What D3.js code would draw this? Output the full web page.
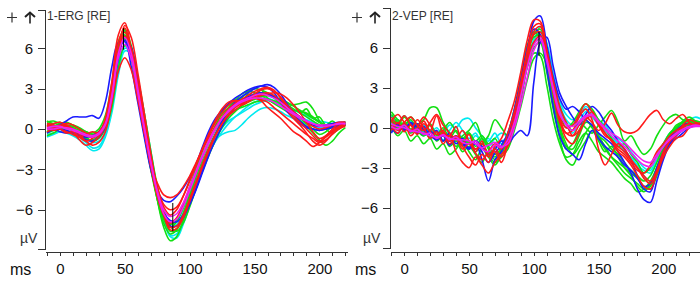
<!DOCTYPE html>
<html><head><meta charset="utf-8">
<script src="https://cdn.jsdelivr.net/npm/d3@7"></script>
<style>
body{margin:0;background:#fff;}
svg{display:block;font-family:Arial,"Liberation Sans",sans-serif;}
.axis path,.axis line{stroke:#333;stroke-width:1;shape-rendering:crispEdges;}
.axis text{fill:#111;font-size:15px;}
</style></head>
<body>
<svg id="c" width="700" height="283"></svg>
<script>
// ---------- DATA ----------
const titles = ["1-ERG [RE]", "2-VEP [RE]"];
const yTicks = [-6, -3, 0, 3, 6];
const xTickLabels = [0, 50, 100, 150, 200];
const colorMap = {red:"#ff1a1a", green:"#12e012", blue:"#1a1aff", cyan:"#00eaf0", magenta:"#f020f0"};

const timesL = [-10,-5,0,5,10,15,20,25,30,35,40,45,50,55,60,65,70,75,80,85,90,95,100,105,110,115,120,125,130,135,140,145,150,155,160,165,170,175,180,185,190,195,200,205,210,215,220];
const timesR = [-10,-5,0,5,10,15,20,25,30,35,40,45,50,55,60,65,70,75,80,85,90,95,100,105,110,115,120,125,130,135,140,145,150,155,160,165,170,175,180,185,190,195,200,205,210,215,220,225,230];

// ERG traces (µV)
const ergC1 = [-0.4,-0.3,-0.2,-0.3,-0.5,-0.8,-1.2,-1.6,-1.5,-0.6, 1.2,4.0,5.8,5.6,3.8,1.2,-1.6,-4.4,-6.6,-7.9, -7.8,-6.8,-5.4,-4.0,-2.7,-1.5,-0.6,0.1,0.6,0.9, 1.2,1.5,1.8,2.0,2.1,2.0,1.8,1.6,1.4,1.2, 1.0,0.8,0.6,0.5,0.4,0.4,0.4];
const ergC2 = [-0.6,-0.4,-0.2,0.0,-0.1,-0.4,-0.7,-1.0,-0.9,-0.2, 1.8,4.8,6.2,5.6,3.4,0.7,-2.0,-4.6,-6.5,-7.3, -7.1,-6.2,-5.0,-3.8,-2.6,-1.6,-0.8,-0.4,-0.2,-0.1, 0.3,0.8,1.2,1.5,1.6,1.5,1.3,1.0,0.8,0.6, 0.4,0.2,0.1,0.1,0.2,0.3,0.4];
const ergC3 = [-0.2,-0.1,0.0,-0.1,-0.3,-0.6,-1.0,-1.4,-1.3,-0.4, 1.5,4.5,6.0,5.7,3.6,0.9,-1.8,-4.5,-6.7,-8.0, -8.1,-7.1,-5.7,-4.3,-3.0,-1.8,-0.9,-0.2,0.4,0.9, 1.3,1.7,2.0,2.2,2.3,2.1,1.8,1.5,1.2,0.9, 0.7,0.5,0.3,0.2,0.2,0.3,0.4];
const ergG1 = [0.4,0.3,0.1,-0.1,-0.3,-0.5,-0.7,-0.8,-0.5,0.3, 2.6,6.0,7.4,6.2,3.6,0.7,-2.4,-5.2,-7.3,-8.3, -8.0,-6.8,-5.3,-3.9,-2.5,-1.3,-0.3,0.5,1.2,1.8, 2.3,2.8,3.0,2.9,2.7,2.4,2.1,1.9,1.8,1.9, 2.0,1.5,0.6,0.0,-0.3,0.0,0.3];
const ergG2 = [0.5,0.6,0.4,0.2,0.1,-0.2,-0.5,-0.6,-0.4,0.4, 2.8,5.8,6.7,5.3,2.7,0.0,-2.6,-4.8,-6.3,-7.0, -6.7,-5.8,-4.6,-3.3,-2.0,-0.9,0.0,0.8,1.5,2.1, 2.6,2.8,2.7,2.5,2.2,1.9,1.6,1.3,1.0,0.6, 0.2,-0.3,-0.8,-1.2,-0.9,-0.3,0.1];
const ergG3 = [-0.5,-0.3,0.0,0.2,0.1,-0.1,-0.3,-0.5,-0.5,0.0, 1.6,4.5,6.2,5.8,3.8,1.2,-1.6,-4.2,-6.0,-7.2, -7.6,-7.0,-5.8,-4.4,-3.1,-1.9,-0.8,0.1,0.8,1.3, 1.7,2.0,2.2,2.4,2.5,2.4,2.2,2.0,1.7,1.4, 1.1,0.8,0.5,0.3,0.2,0.2,0.3];
const ergG4 = [0.2,0.1,0.0,0.0,-0.1,-0.3,-0.6,-0.9,-0.7,0.1, 2.3,5.6,7.0,6.0,3.3,0.4,-2.3,-4.6,-6.6,-7.6, -7.4,-6.3,-4.9,-3.5,-2.2,-1.0,0.0,0.8,1.4,1.8, 2.0,2.3,2.6,2.7,2.6,2.3,1.9,1.6,1.4,1.3, 1.2,0.9,0.5,0.2,0.1,0.2,0.3];
const ergG5 = [-0.3,-0.1,0.2,0.3,0.2,0.0,-0.2,-0.3,0.0,1.0, 3.4,6.2,6.9,5.2,2.4,-0.4,-3.0,-5.2,-6.7,-7.3, -6.9,-5.8,-4.3,-2.9,-1.6,-0.4,0.6,1.3,1.8,2.1, 2.2,2.3,2.3,2.4,2.5,2.4,2.1,1.8,1.5,1.2, 0.9,0.6,0.3,0.2,0.3,0.4,0.5];
const ergG6 = [0.6,0.4,0.5,0.2,0.0,-0.3,-0.2,-0.5,-0.3,0.5, 2.7,6.0,7.2,5.8,3.0,0.3,-2.6,-5.2,-7.0,-7.8, -7.5,-6.5,-5.0,-3.5,-2.1,-0.8,0.3,1.1,1.6,2.2, 2.0,2.6,2.4,2.9,2.3,2.0,2.2,1.6,1.8,1.2, 1.5,0.8,0.9,0.3,0.6,0.2,0.4];
const ergG7 = [-0.2,0.2,0.4,0.5,0.3,0.1,-0.2,-0.4,-0.2,0.6, 3.0,6.5,7.3,5.5,2.6,-0.2,-2.9,-5.0,-6.5,-7.1, -6.8,-5.9,-4.6,-3.2,-1.9,-0.8,0.1,0.7,1.1,1.4, 1.6,1.8,2.0,2.1,2.2,2.1,1.9,1.6,1.2,0.8, 0.4,0.0,-0.4,-0.2,0.2,0.4,0.5];
const ergB1 = [-0.3,0.0,0.3,0.6,0.9,0.9,0.9,1.0,0.8,2.0, 4.6,6.4,6.5,4.6,2.0,-0.6,-3.0,-4.6,-5.3,-5.4, -5.0,-4.4,-3.6,-2.6,-1.3,-0.1,0.8,1.4,1.9,2.3, 2.6,2.9,3.1,3.2,3.1,2.7,2.0,1.3,0.8,0.4, 0.1,0.0,-0.1,0.0,0.1,0.2,0.3];
const ergB2 = [0.1,0.0,-0.2,-0.3,-0.2,-0.4,-0.6,-0.5,-0.2,0.6, 2.8,5.7,6.6,5.4,2.9,0.2,-2.4,-4.7,-6.2,-6.8, -6.9,-6.4,-5.6,-4.5,-3.2,-1.9,-0.8,0.2,1.0,1.6, 2.1,2.4,2.6,2.7,2.6,2.4,2.1,1.7,1.3,0.9, 0.6,0.3,0.2,0.3,0.4,0.5,0.5];
const ergB3 = [0.3,0.2,0.0,-0.1,-0.3,-0.5,-0.8,-0.9,-0.6,0.2, 2.2,5.2,6.8,6.1,3.6,0.8,-2.0,-4.6,-6.4,-7.2, -7.2,-6.6,-5.6,-4.4,-3.0,-1.6,-0.4,0.6,1.4,2.0, 2.4,2.7,3.0,3.2,3.3,3.1,2.6,1.9,1.2,0.6, 0.2,0.0,-0.1,0.0,0.2,0.3,0.4];
const ergR1 = [0.3,0.2,0.1,0.2,0.0,-0.3,-0.5,-0.6,-0.4,0.8, 3.5,7.0,7.9,5.8,2.8,-0.2,-2.8,-5.0,-6.4,-7.0, -6.6,-5.6,-4.5,-3.2,-2.0,-0.9,0.1,0.9,1.5,1.9, 2.2,2.5,2.8,3.0,3.1,2.9,2.3,1.6,1.0,0.5, 0.0,-0.5,-0.9,-0.6,-0.2,0.1,0.3];
const ergR2 = [0.0,0.1,0.3,0.2,-0.2,-0.8,-1.2,-1.0,-0.6,0.3, 2.0,4.3,5.3,4.4,2.2,-0.3,-2.5,-4.0,-4.9,-5.1, -4.9,-4.3,-3.5,-2.5,-1.5,-0.6,0.2,0.8,1.3,1.7, 2.0,2.2,2.3,2.2,2.0,1.6,1.2,0.8,0.4,0.0, -0.4,-0.7,-1.0,-0.8,-0.4,0.0,0.2];
const ergR3 = [0.4,0.3,0.0,-0.2,-0.4,-0.6,-0.4,-0.2,-0.3,0.2, 2.2,5.5,6.9,6.0,3.5,0.8,-2.0,-4.5,-6.2,-7.3, -7.2,-6.4,-5.2,-3.9,-2.6,-1.4,-0.4,0.4,1.0,1.4, 1.8,2.2,2.6,2.9,3.0,2.8,2.4,1.8,1.3,0.9, 0.5,0.2,0.0,0.1,0.3,0.5,0.5];
const ergR4 = [-0.2,0.0,0.2,0.4,0.3,0.0,-0.3,-0.5,-0.2,0.6, 3.0,6.4,7.5,5.6,2.9,0.2,-2.4,-4.4,-5.8,-6.4, -6.0,-5.0,-3.8,-2.6,-1.4,-0.4,0.5,1.2,1.8,2.1, 2.1,2.2,2.4,2.6,2.7,2.5,2.0,1.4,0.8,0.3, -0.3,-0.9,-1.2,-0.9,-0.3,0.2,0.4];
const ergR5 = [0.2,0.4,0.5,0.3,0.0,-0.4,-0.9,-1.2,-1.0,-0.2, 2.0,5.6,7.7,6.8,4.2,1.2,-1.8,-4.4,-6.4,-7.5, -7.4,-6.6,-5.4,-4.1,-2.8,-1.6,-0.5,0.4,1.1,1.6, 1.9,2.1,2.3,2.5,2.6,2.7,2.6,2.3,1.8,1.2, 0.5,-0.2,-0.7,-0.5,0.0,0.4,0.5];
const ergR6 = [0.2,-0.1,0.0,-0.3,-0.2,-0.6,-0.9,-0.7,-0.4,0.4, 2.4,5.8,7.2,5.9,3.2,0.4,-2.2,-4.3,-5.6,-6.0, -5.8,-5.0,-3.9,-2.7,-1.5,-0.3,0.7,1.5,2.0,2.1, 1.8,2.0,2.3,2.1,1.6,1.2,0.8,0.3,-0.2,-0.5, -0.9,-1.3,-1.0,-0.5,-0.1,0.2,0.4];
const ergM1 = [0.0,0.0,0.1,0.1,0.0,-0.2,-0.4,-0.5,-0.3,0.4, 2.5,5.3,6.3,5.2,2.7,0.0,-2.5,-4.6,-6.0,-6.5, -6.3,-5.5,-4.3,-3.1,-1.9,-0.8,0.1,0.8,1.3,1.7, 2.0,2.2,2.3,2.3,2.2,2.0,1.7,1.4,1.1,0.8, 0.6,0.4,0.3,0.3,0.3,0.4,0.4];
const ergM2 = [0.1,0.2,0.2,0.0,-0.1,-0.3,-0.5,-0.6,-0.4,0.3, 2.3,5.6,6.8,5.6,3.0,0.2,-2.4,-4.7,-6.3,-6.9, -6.7,-5.8,-4.6,-3.3,-2.1,-1.0,0.0,0.8,1.4,1.8, 2.1,2.3,2.5,2.6,2.5,2.3,2.0,1.6,1.2,0.9, 0.6,0.4,0.2,0.2,0.3,0.4,0.4];

// VEP traces (µV)
const vepC1 = [0.9,0.4,0.9,0.3,-0.2,-0.6,-0.2,-0.8,-0.4,0.2, 0.0,0.6,0.7,0.0,-0.6,-1.0,-0.4,-1.2,-0.8,0.6, 2.8,5.0,6.6,7.2,6.2,4.0,1.8,0.6,0.2,0.8, 1.6,1.2,0.6,0.2,-0.4,-0.8,-1.2,-1.8,-2.4,-3.0, -3.2,-2.2,-1.2,-0.4,0.0,0.2,0.6,0.8,0.6];
const vepC2 = [0.4,-0.2,0.2,0.5,0.0,-0.3,-0.7,-0.3,-0.9,-0.5, -0.2,-0.8,-1.2,-0.6,-1.0,-1.4,-0.8,-0.4,-0.6,0.4, 2.2,4.6,6.4,7.6,6.4,4.0,2.0,1.0,0.6,1.0, 1.4,1.0,0.4,-0.2,-0.6,-1.2,-1.8,-2.4,-2.8,-3.6, -4.0,-3.0,-1.6,-0.8,-0.2,0.2,0.4,0.3,0.2];
const vepC3 = [0.2,0.6,0.0,0.4,-0.3,0.2,-0.4,0.0,-0.6,-0.2, 0.4,-0.2,-0.8,-0.4,-1.2,-0.8,-1.6,-1.0,-0.8,0.8, 3.2,5.6,7.0,7.0,5.6,3.2,1.4,0.2,-0.4,0.4, 1.2,0.8,0.2,-0.2,-0.8,-1.2,-1.8,-2.2,-2.8,-3.2, -3.4,-2.4,-1.4,-0.6,0.0,0.4,0.6,0.4,0.3];
const vepG1 = [0.5,0.0,0.4,-0.1,0.2,0.6,1.5,1.5,0.4,-0.4, -1.0,-0.6,-0.2,0.4,-0.8,-1.4,-2.0,-1.6,-0.6,1.0, 3.2,5.6,6.8,6.9,5.0,2.4,0.2,-1.2,-2.0,-1.4, -0.4,0.2,-0.6,-1.4,-2.2,-2.8,-3.4,-3.8,-4.2,-4.6, -4.4,-3.2,-1.8,-0.6,0.2,0.4,0.2,0.3,0.3];
const vepG2 = [1.0,0.4,-0.2,0.3,-0.4,-0.1,-0.8,-0.3,-1.0,-0.6, -1.4,-0.8,-1.2,-1.8,-1.2,-0.6,0.6,0.0,-0.6,0.6, 2.4,4.6,6.0,6.4,5.2,3.4,1.6,0.4,-0.2,0.4, 0.0,-0.4,0.2,0.8,1.3,0.4,-1.0,-0.6,-1.4,-2.0, -1.6,-0.6,0.2,0.8,1.0,0.6,0.5,0.3,0.3];
const vepG3 = [0.2,-0.6,-0.2,-1.0,-0.6,-1.2,-0.8,-1.6,-1.2,-2.0, -1.6,-1.0,-1.8,-2.4,-1.6,-2.2,-2.8,-2.0,-1.0,0.4, 2.2,4.6,5.6,5.4,3.2,0.6,-1.2,-2.2,-2.0,-1.0, -0.4,-1.0,-1.8,-2.2,-2.6,-3.2,-3.8,-4.2,-4.8,-4.6, -4.0,-3.0,-1.8,-1.0,-0.4,0.0,0.2,0.3,0.3];
const vepG4 = [0.6,0.2,0.8,0.3,0.0,-0.4,0.2,-0.6,-0.2,0.4, -0.3,-0.8,-0.4,-1.0,-0.6,-1.2,-0.8,-1.6,-0.8,0.6, 2.8,5.4,7.0,7.4,5.8,3.4,1.2,0.0,0.4,1.2, 1.8,1.4,0.6,0.0,-0.8,-1.4,-1.2,-2.0,-2.6,-3.4, -3.0,-2.0,-1.2,-0.4,0.0,0.4,0.6,0.3,0.3];
const vepG5 = [0.6,0.0,0.4,-0.4,0.0,-0.6,-0.2,-0.8,-0.4,-1.0, -0.6,-1.4,-1.0,-1.6,-1.2,-2.0,-2.6,-2.2,-1.6,-0.2, 1.6,3.6,5.2,5.6,4.8,2.4,0.0,-1.4,-1.6,-0.6, 0.4,0.2,-0.6,-1.0,-1.6,-2.0,-2.6,-3.2,-3.6,-4.0, -3.6,-2.6,-1.4,-0.6,0.0,0.4,0.6,0.5,0.4];
const vepG6 = [-0.3,0.6,0.1,0.8,0.2,-0.4,0.3,-0.5,0.0,-0.8, -0.2,-1.0,-0.4,-1.4,-0.8,-1.6,-2.2,-1.4,-0.4,1.4, 3.8,6.2,7.2,6.6,4.2,1.4,-0.8,-2.4,-2.8,-1.8, -1.0,-0.2,-1.0,-1.8,-1.4,-2.2,-3.0,-3.6,-4.4,-4.8, -4.2,-3.0,-1.6,-0.6,0.0,0.5,0.8,0.5,0.4];
const vepG7 = [1.2,0.6,0.2,0.6,-0.2,-0.6,-0.2,-1.0,-0.6,-1.4, -1.0,-1.8,-1.4,-2.0,-2.6,-1.8,-2.4,-1.6,-0.8,0.8, 3.0,5.2,6.4,6.6,4.6,2.0,-0.2,-1.6,-1.2,-0.2, 0.6,0.0,-0.8,-1.6,-2.2,-2.6,-3.0,-3.4,-3.8,-4.4, -4.6,-3.6,-2.2,-1.0,-0.2,0.2,0.4,0.4,0.3];
const vepB1 = [-0.4,0.2,-0.2,0.3,-0.4,0.1,-0.6,-0.2,-1.0,-0.4, -1.2,-0.8,-1.6,-1.2,-2.4,-4.0,-2.4,-1.8,-0.6,1.0, 3.0,5.6,8.0,8.4,6.2,3.8,2.2,1.4,1.6,1.2, 0.6,0.2,-0.4,-0.8,-1.2,-1.8,-2.6,-3.4,-4.6,-5.4, -5.6,-4.0,-2.4,-1.2,-0.6,-0.2,0.1,0.2,0.2];
const vepB2 = [0.0,-0.4,0.2,-0.3,0.3,-0.2,-0.6,-0.9,-0.5,-1.0, -0.6,-1.2,-1.6,-1.0,-1.4,-2.0,-1.6,-1.0,-1.2,-0.6, -0.2,-0.6,3.4,6.4,6.8,4.6,2.6,1.6,0.8,0.2, 1.0,1.6,1.2,0.4,-0.2,-1.0,-1.6,-2.4,-3.6,-4.6, -4.8,-3.2,-2.0,-1.2,-0.8,-0.4,0.0,0.2,0.2];
const vepB3 = [-0.2,0.3,-0.1,0.4,0.0,-0.5,-0.2,-0.9,-0.6,-1.3, -0.7,-1.1,-1.5,-1.0,-1.8,-2.6,-1.9,-1.3,-0.4,1.4, 3.6,6.0,7.4,7.0,4.4,1.6,-0.6,-1.6,-2.0,-2.4, -1.2,-0.2,-0.8,-1.4,-1.8,-2.2,-2.8,-3.2,-3.8,-4.4, -4.2,-3.0,-1.8,-0.8,-0.2,0.2,0.3,0.2,0.2];
const vepR1 = [0.8,0.3,0.9,0.2,-0.3,0.5,-0.2,0.9,-0.4,-0.6, 0.1,-1.2,-0.5,-1.8,-1.0,-2.2,-1.4,-0.8,0.5,2.0, 4.2,6.6,8.1,8.0,5.8,3.0,0.6,-0.8,-1.2,-0.4, 0.6,1.2,0.2,-0.6,-0.9,-1.4,-1.8,-2.4,-3.0,-3.6, -4.0,-3.2,-1.8,-1.0,-0.6,0.2,0.6,0.4,0.3];
const vepR2 = [0.2,-0.4,0.3,-0.6,0.0,0.8,0.2,-0.5,-0.2,-1.0, -0.6,-1.4,-2.2,-2.8,-2.0,-2.6,-1.6,-2.2,-1.0,0.8, 2.6,4.8,6.4,6.9,5.4,2.6,0.4,-0.4,-0.6,0.2, 0.8,0.4,-0.2,0.3,1.1,0.2,-0.3,-0.4,-0.2,0.4, 1.0,1.3,0.6,0.3,0.7,1.0,0.4,0.2,0.2];
const vepR3 = [0.5,1.0,0.4,-0.2,0.6,0.0,-0.8,-0.3,-1.2,-0.6, -1.8,-2.6,-3.0,-2.2,-2.8,-3.4,-2.6,-2.0,-1.4,0.2, 2.4,5.0,7.2,7.6,5.6,3.0,0.8,-0.4,-0.2,0.8, 1.4,0.6,-1.6,-2.8,-2.0,-1.2,-1.6,-2.4,-3.0,-3.8, -4.2,-3.4,-2.2,-1.4,-0.8,-0.6,0.0,0.3,0.2];
const vepR4 = [-0.2,0.4,-0.3,0.2,-0.5,0.3,-0.3,-0.8,-0.4,-1.2, -0.8,-1.6,-1.2,-1.9,-2.4,-1.8,-1.2,-1.6,-0.4,1.2, 3.4,5.6,7.0,7.2,5.8,3.6,1.6,0.4,-0.6,-0.2, 0.6,0.9,0.2,-0.4,-1.0,-1.6,-2.0,-2.6,-3.2,-3.4, -2.8,-1.8,-1.2,-0.6,-0.2,0.1,0.3,0.2,0.1];
const vepR5 = [0.6,-0.2,0.4,0.8,0.2,-0.2,0.4,1.0,0.2,-0.4, -0.8,-0.2,-1.0,-1.6,-1.2,-2.0,-1.8,-2.6,-1.2,0.4, 2.8,5.8,7.6,7.8,5.6,2.8,0.8,0.0,0.2,1.0, 1.8,1.2,0.4,-0.4,-1.0,-1.8,-2.2,-2.8,-3.6,-4.4, -4.6,-3.4,-2.0,-1.0,-0.4,0.0,0.3,0.2,0.2];
const vepM1 = [0.3,0.1,0.0,-0.2,-0.3,-0.4,-0.6,-0.7,-0.6,-0.8, -0.9,-0.9,-1.0,-1.2,-1.5,-1.3,-1.1,-1.4,-1.2,0.0, 1.8,3.8,5.8,6.6,5.0,2.8,1.0,0.3,0.1,0.5, 0.9,1.0,0.5,0.0,-0.4,-0.7,-1.1,-1.6,-2.1,-2.5, -2.6,-2.0,-1.4,-0.9,-0.5,-0.2,0.0,0.1,0.1];
const vepM2 = [0.1,-0.1,0.2,-0.3,-0.1,-0.5,-0.4,-0.8,-0.5,-0.9, -0.7,-1.1,-1.2,-1.0,-1.6,-1.8,-1.3,-1.5,-0.9,0.4, 2.4,4.6,6.2,6.8,5.2,3.0,1.2,0.2,-0.2,0.3, 0.8,0.9,0.4,-0.1,-0.6,-1.0,-1.4,-1.9,-2.4,-2.8, -2.9,-2.2,-1.4,-0.8,-0.4,-0.1,0.1,0.2,0.1];

const ergTraces = [
  ["cyan",ergC1],["cyan",ergC2],["cyan",ergC3],["green",ergG1],["green",ergG2],["green",ergG3],["green",ergG4],["green",ergG5],["green",ergG6],["green",ergG7],
  ["blue",ergB1],["blue",ergB2],["blue",ergB3],["red",ergR1],["red",ergR2],["red",ergR3],["red",ergR4],["red",ergR5],["red",ergR6],["magenta",ergM1],["magenta",ergM2]];
const vepTraces = [
  ["cyan",vepC1],["cyan",vepC2],["cyan",vepC3],["green",vepG1],["green",vepG2],["green",vepG3],["green",vepG4],["green",vepG5],["green",vepG6],["green",vepG7],
  ["blue",vepB1],["blue",vepB2],["blue",vepB3],["red",vepR1],["red",vepR2],["red",vepR3],["red",vepR4],["red",vepR5],["magenta",vepM1],["magenta",vepM2]];

// cursor markers [ms, from µV, to µV]
const ergMarkers = [[49, 5.9, 7.5], [87, -5.5, -7.6]];
const vepMarkers = [[104, 5.4, 7.2]];

// ---------- DRAW ----------
const svg = d3.select("#c");
const panels = [
  {title:titles[0], times:timesL, traces:ergTraces, markers:ergMarkers,
   x:d3.scaleLinear().domain([-11.5, 221.5]).range([45, 347.3]),
   y:d3.scaleLinear().domain([-8.92, 8.85]).range([249, 10]),
   xAxisY:251.5, xEnd:347.3, tickMax:220, plusX:12, arrowX:30, msX:10, uvX:20},
  {title:titles[1], times:timesR, traces:vepTraces, markers:vepMarkers,
   x:d3.scaleLinear().domain([-11, 228.3]).range([390, 700]),
   y:d3.scaleLinear().domain([-9.05, 8.97]).range([248.3, 8.3]),
   xAxisY:251.5, xEnd:700, tickMax:220, plusX:357, arrowX:375, msX:355, uvX:363}
];

const problems = [];
panels.forEach((p, pi) => {
  const g = svg.append("g");
  const x0 = p.x.range()[0];
  const clipId = "clip" + pi;
  svg.append("clipPath").attr("id", clipId).append("rect")
    .attr("x", x0 + 1).attr("y", 0).attr("width", p.xEnd - x0 - 1).attr("height", 250);

  const line = d3.line().x(d => p.x(d[0])).y(d => p.y(d[1])).curve(d3.curveCatmullRom.alpha(0.5));
  const tg = g.append("g").attr("clip-path", `url(#${clipId})`);
  p.traces.forEach(([c, vals], i) => {
    if (vals.length !== p.times.length) problems.push(`panel ${pi} trace ${i} len ${vals.length}`);
    const pts = p.times.map((t, k) => [t, vals[k]]).filter(d => d[1] !== undefined);
    tg.append("path").attr("d", line(pts)).attr("fill", "none")
      .attr("stroke", colorMap[c]).attr("stroke-width", 1.6).attr("stroke-linejoin", "round");
  });
  p.markers.forEach(([t, a, b]) => {
    tg.append("line").attr("x1", p.x(t)).attr("x2", p.x(t)).attr("y1", p.y(a)).attr("y2", p.y(b))
      .attr("stroke", "#000").attr("stroke-width", 1);
  });

  g.append("g").attr("class", "axis").attr("transform", `translate(${x0},0)`)
    .call(d3.axisLeft(p.y).tickValues(yTicks).tickSize(7).tickSizeOuter(7).tickPadding(5).tickFormat(d3.format("d")));

  const xt = d3.range(-10, p.tickMax + 1, 10);
  g.append("g").attr("class", "axis").attr("transform", `translate(0,${p.xAxisY})`)
    .call(d3.axisBottom(p.x).tickValues(xt).tickSize(4).tickSizeOuter(0).tickPadding(8)
      .tickFormat(d => xTickLabels.includes(d) ? d : ""));

  g.append("text").attr("x", x0 + 2).attr("y", 20).attr("font-size", 12).attr("fill", "#333").text(p.title);
  g.append("text").attr("x", p.msX).attr("y", 275).attr("font-size", 16).attr("fill", "#111").text("ms");
  g.append("text").attr("x", p.uvX).attr("y", 243).attr("font-size", 14).attr("fill", "#333").text("µV");
  const px = p.plusX, py = 17.5;
  g.append("path").attr("d", `M${px-5},${py}H${px+5}M${px},${py-5}V${py+5}`).attr("stroke", "#333").attr("stroke-width", 1.2);
  const ax = p.arrowX;
  g.append("path").attr("d", `M${ax-5},${py-0.5}L${ax},${py-5}L${ax+5},${py-0.5}`).attr("fill", "none").attr("stroke", "#222").attr("stroke-width", 2);
  g.append("path").attr("d", `M${ax},${py-4}V${py+6}`).attr("stroke", "#222").attr("stroke-width", 1.6);
});
if (problems.length) throw new Error(problems.join("; "));
</script>
</body></html>
